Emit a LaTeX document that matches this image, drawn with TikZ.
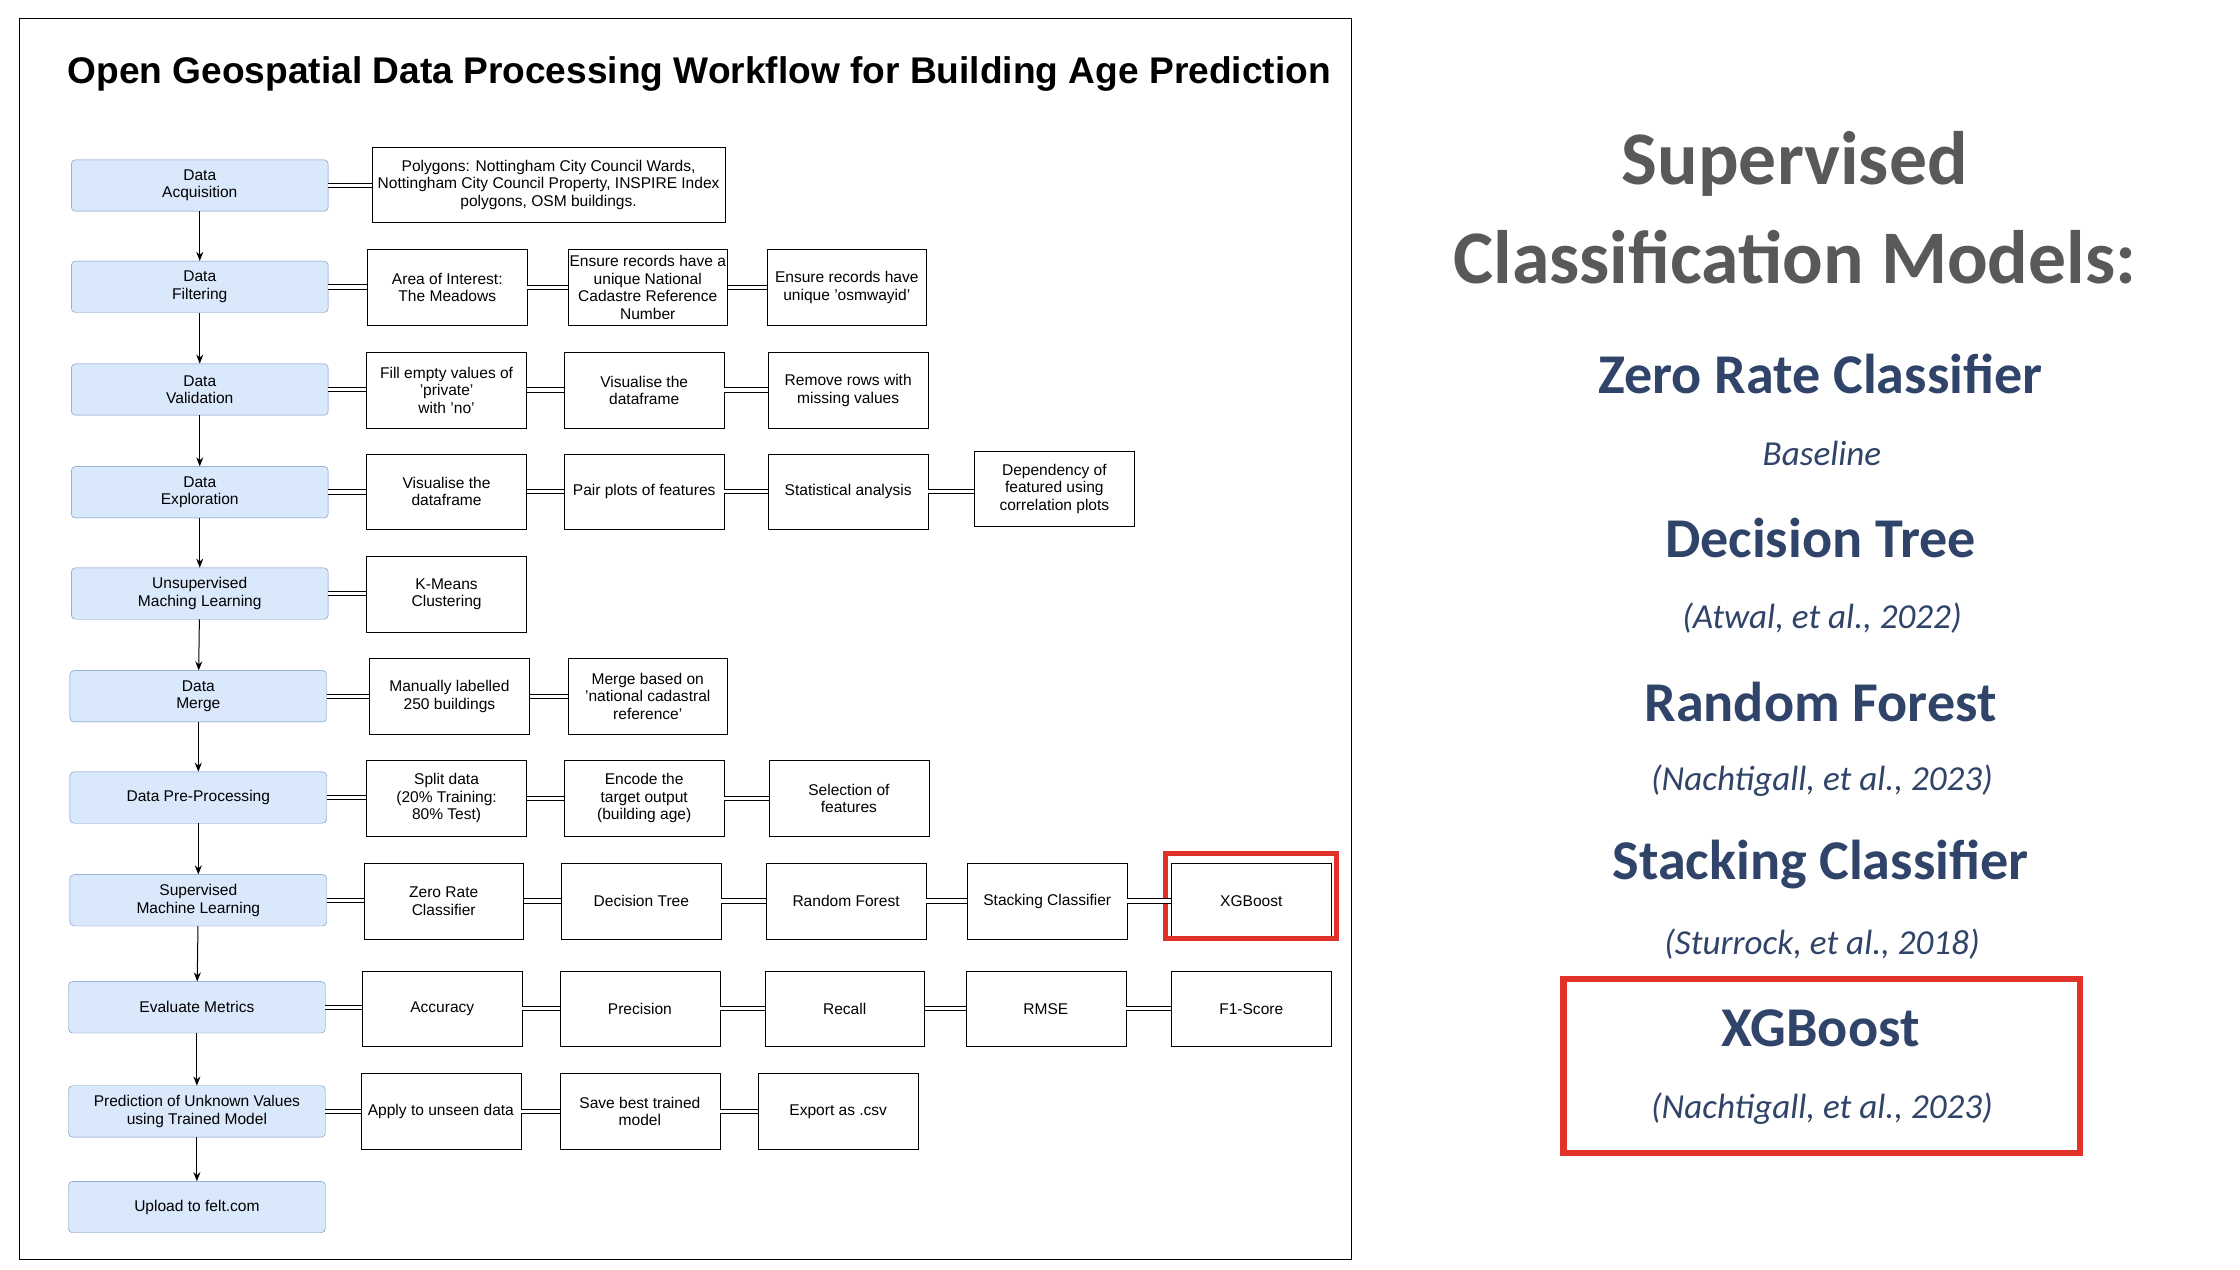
\documentclass[tikz,border=0pt]{standalone}
\usepackage{fontspec}
\setmainfont{Liberation Sans}
\newfontfamily\carl{Carlito}
\usetikzlibrary{arrows.meta}
\definecolor{lbf}{HTML}{DAE8FC}
\definecolor{lbd}{HTML}{6C8EBF}
\definecolor{navy}{HTML}{2F4468}
\definecolor{hgray}{HTML}{595959}
\definecolor{rd}{HTML}{E0312A}
\begin{document}
\begin{tikzpicture}[x=0.05cm,y=-0.05cm,
 lb/.style={draw=lbd,fill=lbf,rounded corners=4pt,minimum width=9cm,minimum height=1.8cm,align=center,font=\fontsize{15.5}{17.5}\selectfont,inner sep=1pt},
 bx/.style={draw,fill=white,minimum width=5.6cm,minimum height=2.65cm,align=center,font=\fontsize{15.5}{17.5}\selectfont,inner sep=1pt},
 dl/.style={double,double distance=3.5pt,line width=1pt},
 ar/.style={-{Stealth[length=9pt,width=7pt]},line width=1pt},
 hd/.style={font=\carl\bfseries\fontsize{75.5}{88}\selectfont,text=hgray},
 sh/.style={font=\carl\bfseries\fontsize{56}{66}\selectfont,text=navy},
 it/.style={font=\carl\itshape\fontsize{35}{42}\selectfont,text=navy}]
\useasboundingbox (0,0) rectangle (1570,890);
\draw[line width=1pt] (14,13) rectangle (947,883);
\node[font=\bfseries\fontsize{37}{42}\selectfont] (title) at (490,52) {Open Geospatial Data Processing Workflow for Building Age Prediction};
% left column
\node[lb] (l1) at (140,130) {Data\\Acquisition};
\node[lb] (l2) at (140,201) {Data\\Filtering};
\node[lb] (l3) at (140,273) {Data\\Validation};
\node[lb] (l4) at (140,345) {Data\\Exploration};
\node[lb] (l5) at (140,416) {Unsupervised\\Maching Learning};
\node[lb] (l6) at (139,488) {Data\\Merge};
\node[lb] (l7) at (139,559) {Data Pre-Processing};
\node[lb] (l8) at (139,631) {Supervised\\Machine Learning};
\node[lb] (l9) at (138,706) {Evaluate Metrics};
\node[lb] (l10) at (138,779) {Prediction of Unknown Values\\using Trained Model};
\node[lb] (l11) at (138,846) {Upload to felt.com};
\foreach \a/\b in {l1/l2,l2/l3,l3/l4,l4/l5,l5/l6,l6/l7,l7/l8,l8/l9,l9/l10,l10/l11}
  \draw[ar] (\a) -- (\b);
% row 1
\node[bx,minimum width=12.35cm] (r1a) at (384.5,129.5) {Polygons: Nottingham City Council Wards,\\Nottingham City Council Property, INSPIRE Index\\polygons, OSM buildings.};
% row 2
\node[bx] (r2a) at (313.5,201.5) {Area of Interest:\\The Meadows};
\node[bx] (r2b) at (454,201.5) {Ensure records have a\\unique National\\Cadastre Reference\\Number};
\node[bx] (r2c) at (593.5,201.5) {Ensure records have\\unique 'osmwayid'};
% row 3
\node[bx] (r3a) at (313,273.5) {Fill empty values of\\'private'\\with 'no'};
\node[bx] (r3b) at (451.5,273.5) {Visualise the\\dataframe};
\node[bx] (r3c) at (594.5,273.5) {Remove rows with\\missing values};
% row 4
\node[bx] (r4a) at (313,344.5) {Visualise the\\dataframe};
\node[bx] (r4b) at (451.5,344.5) {Pair plots of features};
\node[bx] (r4c) at (594.5,344.5) {Statistical analysis};
\node[bx] (r4d) at (739,342.5) {Dependency of\\featured using\\correlation plots};
% row 5
\node[bx] (r5a) at (313,416.5) {K-Means\\Clustering};
% row 6
\node[bx] (r6a) at (315,488) {Manually labelled\\250 buildings};
\node[bx] (r6b) at (454,488) {Merge based on\\'national cadastral\\reference'};
% row 7
\node[bx] (r7a) at (313,559.5) {Split data\\(20\% Training:\\80\% Test)};
\node[bx] (r7b) at (451.5,559.5) {Encode the\\target output\\(building age)};
\node[bx] (r7c) at (595,559.5) {Selection of\\features};
% row 8
\node[bx] (r8a) at (311,631.5) {Zero Rate\\Classifier};
\node[bx] (r8b) at (449.5,631.5) {Decision Tree};
\node[bx] (r8c) at (593,631.5) {Random Forest};
\node[bx] (r8d) at (734,631.5) {Stacking Classifier};
\node[bx] (r8e) at (877,631.5) {XGBoost};
\draw[rd,line width=5pt] (817,598) rectangle (937,658);
% row 9
\node[bx] (r9a) at (310,707) {Accuracy};
\node[bx] (r9b) at (448.5,707) {Precision};
\node[bx] (r9c) at (592,707) {Recall};
\node[bx] (r9d) at (733,707) {RMSE};
\node[bx] (r9e) at (877,707) {F1-Score};
% row 10
\node[bx] (r10a) at (309,779) {Apply to unseen data};
\node[bx] (r10b) at (448.5,779) {Save best trained\\model};
\node[bx] (r10c) at (587.5,779) {Export as .csv};
% double connectors
\foreach \a/\b in {l1/r1a,l2/r2a,r2a/r2b,r2b/r2c,l3/r3a,r3a/r3b,r3b/r3c,l4/r4a,r4a/r4b,r4b/r4c,r4c/r4d,l5/r5a,l6/r6a,r6a/r6b,l7/r7a,r7a/r7b,r7b/r7c,l8/r8a,r8a/r8b,r8b/r8c,r8c/r8d,r8d/r8e,l9/r9a,r9a/r9b,r9b/r9c,r9c/r9d,r9d/r9e,l10/r10a,r10a/r10b,r10b/r10c}
  \draw[dl] (\a.east) -- (\b.west|-\a.east);
% right side
\node[hd] (h1) at (1258,115) {Supervised};
\node[hd] (h2) at (1258,180) {Classification Models:};
\node[sh] (s1) at (1276,262) {Zero Rate Classifier};
\node[it] (i1) at (1277,318) {Baseline};
\node[sh] (s2) at (1276,377) {Decision Tree};
\node[it] (i2) at (1277,433) {(Atwal, et al., 2022)};
\node[sh] (s3) at (1276,492) {Random Forest};
\node[it] (i3) at (1277,547) {(Nachtigall, et al., 2023)};
\node[sh] (s4) at (1276,606) {Stacking Classifier};
\node[it] (i4) at (1277,662) {(Sturrock, et al., 2018)};
\draw[rd,line width=6.5pt] (1096,686) rectangle (1458,808);
\node[sh] (s5) at (1276,721) {XGBoost};
\node[it] (i5) at (1277,777) {(Nachtigall, et al., 2023)};
\end{tikzpicture}
\end{document}
